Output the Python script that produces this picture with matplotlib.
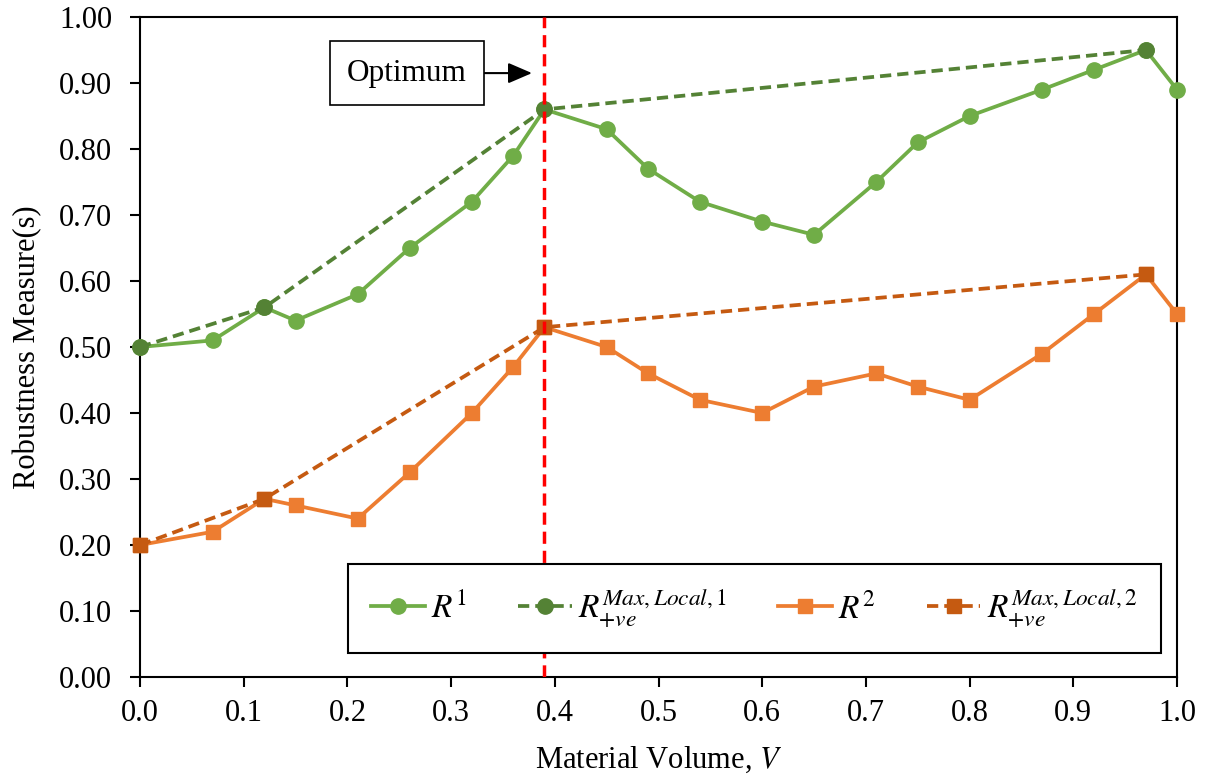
import numpy as np
import matplotlib
matplotlib.use("Agg")
import matplotlib.pyplot as plt

plt.rcParams['font.family'] = ['Liberation Serif', 'DejaVu Serif']
plt.rcParams['mathtext.fontset'] = 'stix'

# Material volume samples
volume = [0.0, 0.07, 0.12, 0.15, 0.21, 0.26, 0.32, 0.36, 0.39, 0.45, 0.49,
          0.54, 0.60, 0.65, 0.71, 0.75, 0.80, 0.87, 0.92, 0.97, 1.0]
r1 = [0.50, 0.51, 0.56, 0.54, 0.58, 0.65, 0.72, 0.79, 0.86, 0.83, 0.77,
      0.72, 0.69, 0.67, 0.75, 0.81, 0.85, 0.89, 0.92, 0.95, 0.89]
r2 = [0.20, 0.22, 0.27, 0.26, 0.24, 0.31, 0.40, 0.47, 0.53, 0.50, 0.46,
      0.42, 0.40, 0.44, 0.46, 0.44, 0.42, 0.49, 0.55, 0.61, 0.55]

# local maxima envelopes
max_x = [0.0, 0.12, 0.39, 0.97]
max_r1 = [0.50, 0.56, 0.86, 0.95]
max_r2 = [0.20, 0.27, 0.53, 0.61]

optimum_v = 0.39

fig = plt.figure(figsize=(12.06, 7.78), dpi=100)
ax = fig.add_axes([140 / 1206, 1 - 677 / 778, 1037 / 1206, 660 / 778])

dash = (0, (3, 1.6))
ax.plot(volume, r1, '-o', color='#70AD47', lw=2.7, ms=11, label=r'$R^{1}$',
        zorder=3, clip_on=False)
ax.plot(max_x, max_r1, 'o', ls=dash, color='#548235', lw=2.7, ms=11,
        label=r'$R^{Max,Local,1}_{+ve}$', zorder=4, clip_on=False)
ax.plot(volume, r2, '-s', color='#ED7D31', lw=2.7, ms=10, label=r'$R^{2}$',
        zorder=3, clip_on=False)
ax.plot(max_x, max_r2, 's', ls=dash, color='#C55A11', lw=2.7, ms=10,
        label=r'$R^{Max,Local,2}_{+ve}$', zorder=4, clip_on=False)

ax.axvline(optimum_v, color='#FF0000', ls=(0, (3.5, 2)), lw=2.5, zorder=5)

# "Optimum" callout box with arrow pointing at the red line
ax.annotate('Optimum', xy=(0.378, 0.915), xytext=(0.2575, 0.915),
            fontsize=22.5, ha='center', va='center',
            bbox=dict(boxstyle='square,pad=0.55', fc='white', ec='black', lw=1.2),
            arrowprops=dict(arrowstyle='-|>,head_width=0.28,head_length=0.65',
                            color='black', lw=1.5, shrinkA=0, shrinkB=0))

ax.set_xlim(0, 1)
ax.set_ylim(0, 1)
ticks = np.arange(0, 1.01, 0.1)
ax.set_xticks(ticks)
ax.set_yticks(ticks)
ax.set_xticklabels([f'{v:.1f}' for v in ticks])
ax.set_yticklabels([f'{v:.2f}' for v in ticks])
ax.tick_params(labelsize=22, direction='out', length=7, width=1.5)
ax.tick_params(axis='x', pad=9)
ax.tick_params(axis='y', pad=13)
for s in ax.spines.values():
    s.set_linewidth(1.5)

ax.set_xlabel(r'Material Volume, $V$', fontsize=22, labelpad=12)
ax.set_ylabel('Robustness Measure(s)', fontsize=22, labelpad=12)

leg = ax.legend(loc='lower left', bbox_to_anchor=(0.2006, 0.036, 0.784, 0.13),
                mode='expand', ncol=4, fontsize=24, borderaxespad=0,
                frameon=True, fancybox=False, edgecolor='black', framealpha=1,
                borderpad=0.7, handlelength=1.6, handletextpad=0.2)
leg.get_frame().set_linewidth(1.5)

fig.savefig('out.png', dpi=100)
